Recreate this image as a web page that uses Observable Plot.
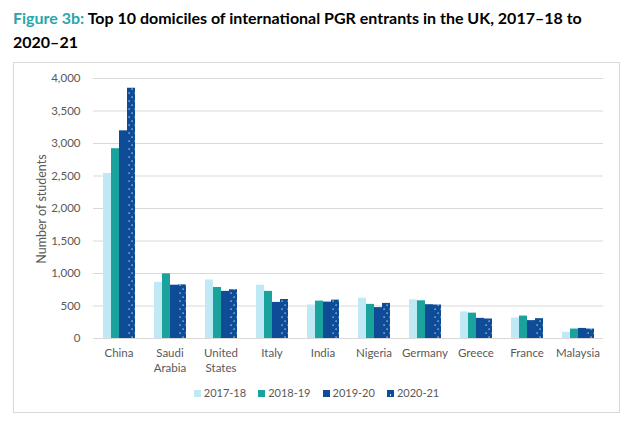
<!DOCTYPE html>
<html><head><meta charset="utf-8">
<script src="https://cdn.jsdelivr.net/npm/d3@7"></script>
<script src="https://cdn.jsdelivr.net/npm/@observablehq/plot@0.6"></script>
<style>
body{margin:0;background:#fff;font-family:Lato,"Open Sans",sans-serif;}
#title{position:absolute;left:13px;top:6px;width:600px;font-size:16px;font-weight:bold;line-height:24px;color:#000;}
#title div{white-space:nowrap;}
#title .fig{color:#2aa6a9;}
#frame{position:absolute;left:13px;top:62px;width:605px;height:349px;border:1px solid #d9d9d9;}
#chart{position:absolute;left:-1px;top:0;}
#ylabel{position:absolute;left:27px;top:146px;transform:translate(-50%,-50%) rotate(-90deg);white-space:nowrap;font-size:12.5px;color:#595959;}
#legend{position:absolute;left:0;top:323px;width:605px;text-align:center;font-size:11px;color:#595959;}
#legend span.item{display:inline-block;margin:0 6px;}
#legend i{display:inline-block;width:7px;height:7px;margin-right:3px;vertical-align:0px;}
</style></head>
<body>
<div id="title"><div><span class="fig">Figure 3b:</span> <span>Top 10 domiciles of international PGR entrants in the UK, 2017–18 to</span></div><div>2020–21</div></div>
<div id="frame"><div id="chart"></div><div id="ylabel">Number of students</div><div id="legend"></div></div>
<script>
const countries = ["China","Saudi Arabia","United States","Italy","India","Nigeria","Germany","Greece","France","Malaysia"];
const countryLabels = ["China","Saudi\nArabia","United\nStates","Italy","India","Nigeria","Germany","Greece","France","Malaysia"];
const years = ["2017-18","2018-19","2019-20","2020-21"];
const v2017 = [2540, 865, 900, 820, 515, 620, 595, 410, 315, 95];
const v2018 = [2920, 995, 785, 725, 575, 525, 580, 390, 345, 145];
const v2019 = [3195, 820, 725, 555, 560, 475, 520, 310, 275, 155];
const v2020 = [3850, 825, 750, 600, 590, 540, 515, 300, 305, 145];
const yTicks = [0,500,1000,1500,2000,2500,3000,3500,4000];
const colors = ["#bfe9f5","#1aa39c","#0f4c97","url(#dots)"];
const swatches = ["#bfe9f5","#1aa39c","#0f4c97","#0f4c97"];

const series = [v2017, v2018, v2019, v2020];
const data = [];
countries.forEach((c, i) => years.forEach((y, j) => data.push({country: c, year: y, value: series[j][i]})));

const labelMap = new Map(countries.map((c, i) => [c, countryLabels[i]]));

const chart = Plot.plot({
  width: 605,
  height: 318,
  marginLeft: 77,
  marginRight: 13,
  marginTop: 15,
  marginBottom: 43,
  style: {fontFamily: "Lato, 'Open Sans', sans-serif", fontSize: "11.5px", color: "#595959", background: "transparent"},
  fx: {domain: countries, paddingInner: 0, paddingOuter: 0, label: null},
  x: {domain: years, paddingInner: 0, paddingOuter: 0.86, axis: null},
  y: {domain: [0, 4000], ticks: yTicks, label: null},
  color: {domain: years, range: colors},
  marks: [
    Plot.ruleY(yTicks, {stroke: "#d9d9d9", strokeWidth: 1}),
    Plot.barY(data, {fx: "country", x: "year", y: "value", fill: "year"}),
    Plot.axisY({ticks: yTicks, tickSize: 0, tickPadding: 13, tickFormat: d3.format(","), label: null}),
    Plot.axisFx({anchor: "bottom", tickSize: 0, tickPadding: 8, tickFormat: d => labelMap.get(d), label: null, lineHeight: 1.3})
  ]
});

// pattern for dotted 2020-21 bars
const ns = "http://www.w3.org/2000/svg";
const defs = document.createElementNS(ns, "defs");
defs.innerHTML = '<pattern id="dots" patternUnits="userSpaceOnUse" width="6" height="8">' +
  '<rect width="6" height="8" fill="#0f4c97"/>' +
  '<rect x="1.5" y="1.5" width="1.2" height="1.2" fill="#dbe8f5"/>' +
  '<rect x="4.5" y="5.5" width="1.2" height="1.2" fill="#dbe8f5"/></pattern>';
chart.insertBefore(defs, chart.firstChild);
document.getElementById("chart").appendChild(chart);

const legend = document.getElementById("legend");
years.forEach((y, j) => {
  const s = document.createElement("span");
  s.className = "item";
  const sw = document.createElement("i");
  sw.style.background = swatches[j];
  if (j === 3) sw.style.backgroundImage = "radial-gradient(circle at 50% 70%, #dbe8f5 0.6px, transparent 1px)";
  s.appendChild(sw);
  s.appendChild(document.createTextNode(y));
  legend.appendChild(s);
});
</script>
</body></html>
